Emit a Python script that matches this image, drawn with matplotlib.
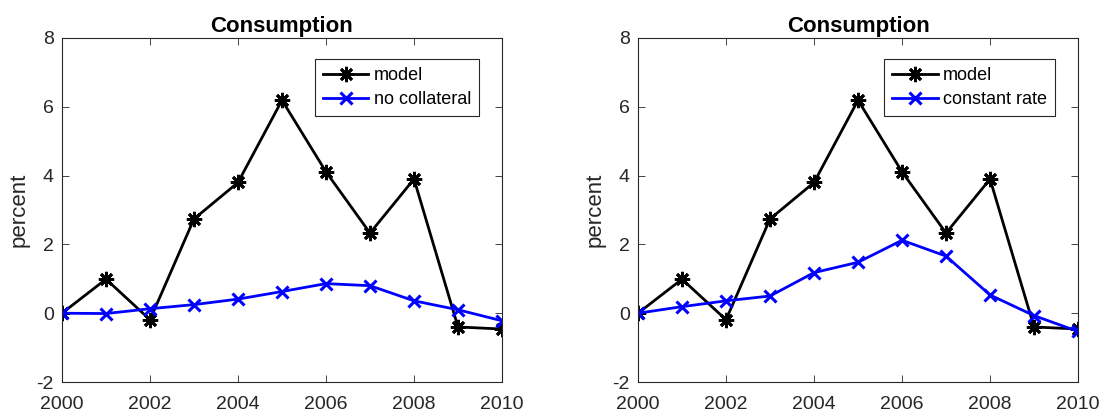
import numpy as np
import matplotlib.pyplot as plt

plt.rcParams['font.family'] = ['Liberation Sans', 'DejaVu Sans']
plt.rcParams['axes.unicode_minus'] = False

years = [2000, 2001, 2002, 2003, 2004, 2005, 2006, 2007, 2008, 2009, 2010]
model = [0.0, 0.99, -0.19, 2.74, 3.80, 6.19, 4.11, 2.33, 3.90, -0.40, -0.46]
no_collateral = [0.0, -0.01, 0.13, 0.25, 0.41, 0.63, 0.86, 0.80, 0.36, 0.10, -0.22]
constant_rate = [0.0, 0.19, 0.36, 0.50, 1.18, 1.48, 2.12, 1.66, 0.53, -0.07, -0.53]

panels = [('no collateral', no_collateral), ('constant rate', constant_rate)]
xticks = [2000, 2002, 2004, 2006, 2008, 2010]
yticks = [-2, 0, 2, 4, 6, 8]

fig = plt.figure(figsize=(11.05, 4.18), dpi=100)
lefts = [0.0561, 0.5774]
tc = '#262626'

for i, (lab, alt) in enumerate(panels):
    ax = fig.add_axes([lefts[i], 0.0861, 0.3982, 0.823])
    ax.plot(years, model, color='black', lw=2, marker=(8, 2, 0), ms=11, mew=2, label='model')
    ax.plot(years, alt, color='blue', lw=2, marker='x', ms=9, mew=2.2, label=lab)
    ax.set_xlim(2000, 2010)
    ax.set_ylim(-2, 8)
    ax.set_xticks(xticks)
    ax.set_yticks(yticks)
    ax.tick_params(direction='in', top=True, right=True, labelsize=14, colors=tc,
                   length=5, width=0.6)
    ax.tick_params(axis='x', pad=10)
    ax.tick_params(axis='y', pad=6)
    for s in ax.spines.values():
        s.set_color(tc)
        s.set_linewidth(0.8)
    ax.set_title('Consumption', fontsize=16, fontweight='bold', pad=4)
    ax.set_ylabel('percent', fontsize=16, color=tc, labelpad=5)
    leg = ax.legend(loc='upper right', bbox_to_anchor=(0.948, 0.939), fontsize=13,
                    fancybox=False, framealpha=1, edgecolor=tc, handlelength=2.5,
                    borderpad=0.45, labelspacing=0.4, handletextpad=0.3,
                    borderaxespad=0)
    leg.get_frame().set_linewidth(0.8)

fig.savefig('out.png', dpi=100)
